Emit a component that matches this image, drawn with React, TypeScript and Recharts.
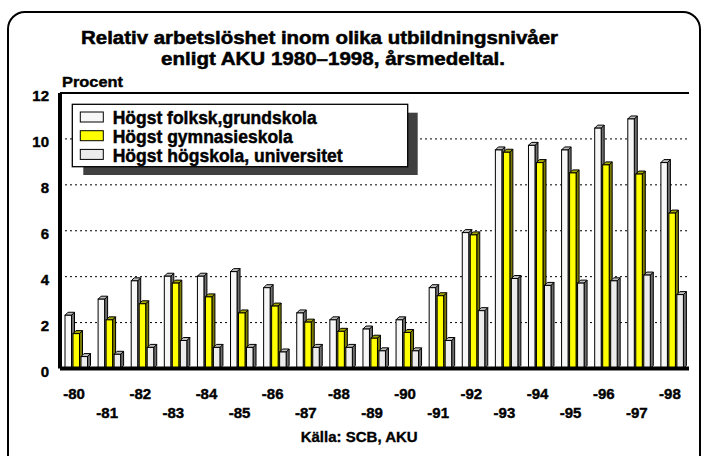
import React from 'react';
import { BarChart, Bar, XAxis, YAxis, CartesianGrid, ReferenceLine, Legend } from 'recharts';

const years = ['-80', '-81', '-82', '-83', '-84', '-85', '-86', '-87', '-88', '-89', '-90', '-91', '-92', '-93', '-94', '-95', '-96', '-97', '-98'];
const folkskola = [2.45, 3.15, 3.95, 4.15, 4.15, 4.35, 3.65, 2.55, 2.25, 1.85, 2.25, 3.65, 6.05, 9.65, 9.85, 9.65, 10.6, 11.0, 9.1];
const gymnasieskola = [1.65, 2.25, 2.95, 3.85, 3.25, 2.55, 2.85, 2.15, 1.75, 1.45, 1.7, 3.3, 5.95, 9.55, 9.1, 8.65, 9.0, 8.6, 6.9];
const hogskola = [0.65, 0.75, 1.05, 1.35, 1.05, 1.05, 0.85, 1.05, 1.05, 0.9, 0.9, 1.35, 2.65, 4.05, 3.75, 3.85, 3.95, 4.2, 3.35];
const seriesNames = ['Högst folksk,grundskola', 'Högst gymnasieskola', 'Högst högskola, universitet'];
const yTicks = [0, 2, 4, 6, 8, 10, 12];

const FONT = '"Liberation Sans", Arial, Helvetica, sans-serif';

const data = years.map((y, i) => ({
  year: y,
  a: folkskola[i],
  b: gymnasieskola[i],
  c: hogskola[i],
}));

const COLORS = {
  a: { front: '#F7F7F7', side: '#6E6E6E', top: '#BDBDBD' },
  b: { front: '#FFFF00', side: '#7A7A00', top: '#A6A600' },
  c: { front: '#ECECEC', side: '#6E6E6E', top: '#BDBDBD' },
};

const makeShape = (c: { front: string; side: string; top: string }) => (props: any) => {
  const { x, y, width, height } = props;
  if (height == null || !(height > 0)) return <g />;
  const d = 3;
  const w = width - 1.5;
  const bottom = y + height;
  const fy = Math.min(y + d, bottom);
  return (
    <g>
      <polygon
        points={`${x + w},${fy} ${x + w + d},${y} ${x + w + d},${bottom - d} ${x + w},${bottom}`}
        fill={c.side}
        stroke="#000"
        strokeWidth={1}
      />
      <polygon
        points={`${x},${fy} ${x + d},${y} ${x + w + d},${y} ${x + w},${fy}`}
        fill={c.top}
        stroke="#000"
        strokeWidth={1}
      />
      <rect x={x} y={fy} width={w} height={bottom - fy} fill={c.front} stroke="#000" strokeWidth={1} />
    </g>
  );
};

const XTick = (props: any) => {
  const { x, y, payload } = props;
  const idx = years.indexOf(payload.value);
  const dy = idx % 2 === 0 ? 30.5 : 49;
  return (
    <text x={x - 2.5} y={y + dy} textAnchor="middle" fontSize={15} fontWeight="bold" fontFamily={FONT} fill="#000" stroke="#000" strokeWidth={0.4}>
      {payload.value}
    </text>
  );
};

const YTick = (props: any) => {
  const { x, y, payload } = props;
  return (
    <text x={x} y={y + 8} textAnchor="end" fontSize={15} fontWeight="bold" fontFamily={FONT} fill="#000" stroke="#000" strokeWidth={0.4}>
      {payload.value}
    </text>
  );
};

const legendSwatches = [COLORS.a.front, COLORS.b.front, COLORS.c.front];
const legendTextLen = [204, 180, 230];

const LegendBox = () => (
  <svg width={360} height={80} style={{ display: 'block', overflow: 'visible' }}>
    <rect x={13.3} y={10.7} width={334.4} height={62.3} fill="#404040" />
    <rect x={2.3} y={2.3} width={335.4} height={62.4} fill="#FFFFFF" stroke="#000" strokeWidth={1.3} />
    {seriesNames.map((n, i) => (
      <g key={n}>
        <rect x={10.3} y={10 + i * 18.7} width={23} height={10} fill={legendSwatches[i]} stroke="#000" strokeWidth={1} />
        <text
          x={42.7}
          y={22.3 + i * 18.7}
          fontSize={18}
          fontWeight="bold"
          fontFamily={FONT}
          fill="#000"
          stroke="#000"
          strokeWidth={0.45}
          textLength={legendTextLen[i]}
          lengthAdjust="spacingAndGlyphs"
        >
          {n}
        </text>
      </g>
    ))}
  </svg>
);

const titleText = { fontWeight: 'bold', fontFamily: FONT, fill: '#000', stroke: '#000' } as const;

export default function App() {
  return (
    <div
      style={{
        position: 'fixed',
        left: 0,
        top: 0,
        width: 704,
        height: 456,
        overflow: 'hidden',
        background: '#FFFFFF',
      }}
    >
      <div
        style={{
          position: 'absolute',
          left: 7,
          top: 11,
          width: 694,
          height: 480,
          border: '2px solid #000',
          borderRadius: 18,
          boxSizing: 'border-box',
        }}
      />
      <div style={{ position: 'absolute', left: 0, top: 0 }}>
        <BarChart
          width={704}
          height={456}
          data={data}
          margin={{ top: 93, right: 15, left: 0, bottom: 37.5 }}
          barSize={8}
          barGap={0}
        >
          <CartesianGrid vertical={false} stroke="#000" strokeDasharray="2 3" strokeWidth={1} />
          <XAxis
            dataKey="year"
            axisLine={{ stroke: '#000', strokeWidth: 4 }}
            tickLine={false}
            tickSize={0}
            tickMargin={0}
            height={50}
            interval={0}
            tick={<XTick />}
          />
          <YAxis
            domain={[0, 12]}
            ticks={yTicks}
            axisLine={{ stroke: '#000', strokeWidth: 4 }}
            tickLine={false}
            tickSize={0}
            tickMargin={11}
            width={60}
            tick={<YTick />}
          />
          <YAxis
            yAxisId="r"
            orientation="right"
            domain={[0, 12]}
            width={0}
            tick={false}
            tickLine={false}
            axisLine={{ stroke: '#000', strokeWidth: 2 }}
          />
          <ReferenceLine y={12} stroke="#000" strokeWidth={2} />
          <Bar dataKey="a" name={seriesNames[0]} fill={COLORS.a.front} shape={makeShape(COLORS.a)} isAnimationActive={false} />
          <Bar dataKey="b" name={seriesNames[1]} fill={COLORS.b.front} shape={makeShape(COLORS.b)} isAnimationActive={false} />
          <Bar dataKey="c" name={seriesNames[2]} fill={COLORS.c.front} shape={makeShape(COLORS.c)} isAnimationActive={false} />
          <Legend
            layout="vertical"
            align="center"
            verticalAlign="middle"
            content={<LegendBox />}
            wrapperStyle={{ position: 'absolute', left: 70, top: 102, width: 360, height: 80 }}
          />
        </BarChart>
      </div>
      <svg
        width={704}
        height={456}
        style={{ position: 'absolute', left: 0, top: 0, pointerEvents: 'none' }}
      >
        <text x={81} y={44} fontSize={18} strokeWidth={0.5} {...titleText} textLength={477} lengthAdjust="spacingAndGlyphs">
          Relativ arbetslöshet inom olika utbildningsnivåer
        </text>
        <text x={161} y={65} fontSize={18} strokeWidth={0.5} {...titleText} textLength={344} lengthAdjust="spacingAndGlyphs">
          enligt AKU 1980–1998, årsmedeltal.
        </text>
        <text x={62} y={86.5} fontSize={15} strokeWidth={0.4} {...titleText} textLength={61} lengthAdjust="spacingAndGlyphs">
          Procent
        </text>
        <text x={300.7} y={441.7} fontSize={15} strokeWidth={0.35} {...titleText} textLength={117} lengthAdjust="spacingAndGlyphs">
          Källa: SCB, AKU
        </text>
      </svg>
    </div>
  );
}
